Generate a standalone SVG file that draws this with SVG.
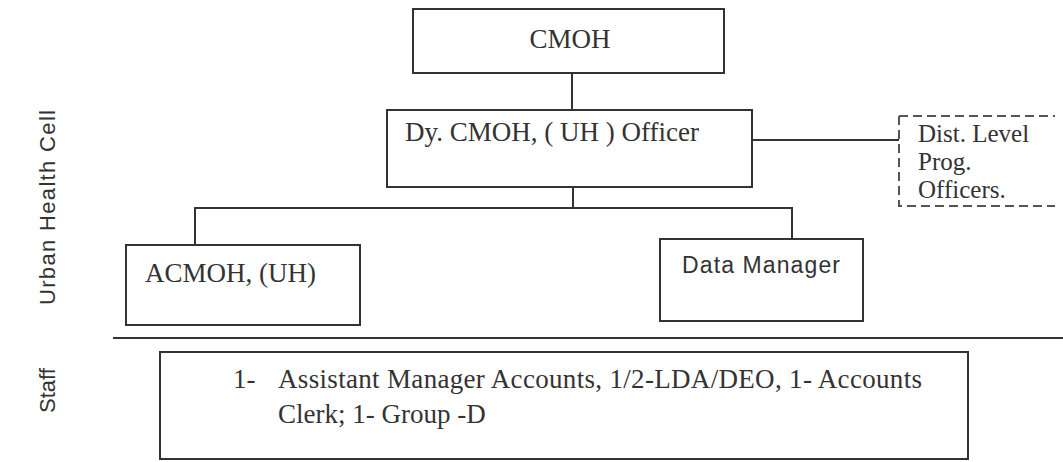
<svg xmlns="http://www.w3.org/2000/svg" width="1063" height="462" viewBox="0 0 1063 462">
<style>
.box{fill:#fff;stroke:#333;stroke-width:2}
.dash{fill:none;stroke:#555;stroke-width:2;stroke-dasharray:9 5}
.ln{fill:none;stroke:#333;stroke-width:2}
.serif{font-family:"Liberation Serif","Times New Roman",serif;font-size:27px;fill:#333}
.small{font-size:25px}
.sans{font-family:"Liberation Sans",Arial,sans-serif;fill:#333}
</style>
<rect width="1063" height="462" fill="#fff"/>
<g id="connectors">
<line class="ln" x1="572" y1="73" x2="572" y2="110"/>
<line class="ln" x1="752" y1="140" x2="899" y2="140"/>
<line class="ln" x1="573" y1="187" x2="573" y2="208"/>
<polyline class="ln" points="195,245 195,208 792,208 792,239"/>
</g>
<line class="ln" x1="113" y1="338" x2="1063" y2="338"/>
<g id="label-uhc"><text class="sans" font-size="22" textLength="195" transform="translate(55,305) rotate(-90)">Urban Health Cell</text></g>
<g id="label-staff"><text class="sans" font-size="22" transform="translate(55,413) rotate(-90)">Staff</text></g>
<g id="cmoh"><rect class="box" x="413" y="9" width="311" height="64"/><text class="serif" x="570" y="48" text-anchor="middle">CMOH</text></g>
<g id="dycmoh"><rect class="box" x="387" y="110" width="365" height="77"/><text class="serif" x="405" y="141">Dy. CMOH, ( UH ) Officer</text></g>
<g id="dist"><path class="dash" d="M899,116 H1055 M899,116 V206 H1055"/><text class="serif small" x="918" y="142">Dist. Level</text><text class="serif small" x="918" y="170">Prog.</text><text class="serif small" x="918" y="198">Officers.</text></g>
<g id="acmoh"><rect class="box" x="126" y="245" width="234" height="80"/><text class="serif" x="145" y="282">ACMOH, (UH)</text></g>
<g id="dm"><rect class="box" x="660" y="239" width="203" height="82"/><text class="sans" font-size="23" x="682" y="273" textLength="158">Data Manager</text></g>
<g id="staff"><rect class="box" x="160" y="352" width="808" height="107"/><text class="serif" x="233" y="388">1-</text><text class="serif" x="278" y="388" textLength="644">Assistant Manager Accounts, 1/2-LDA/DEO, 1- Accounts</text><text class="serif" x="278" y="423">Clerk; 1- Group -D</text></g>
</svg>
